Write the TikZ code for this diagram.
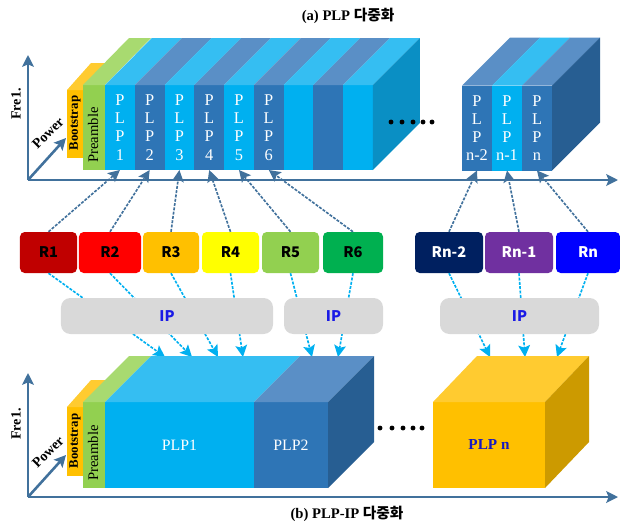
\documentclass[tikz,border=0pt]{standalone}
\usepackage{fontspec}
\setmainfont{Liberation Serif}
\newfontfamily\kor{Noto Sans CJK KR}
\usetikzlibrary{positioning,arrows.meta}

\definecolor{plpcyan}{HTML}{00B0F0}
\definecolor{plpcyantop}{HTML}{35BEF2}
\definecolor{plpcyanside}{HTML}{0A8FC4}
\definecolor{plpblue}{HTML}{2E75B6}
\definecolor{plpbluetop}{HTML}{5A8FC6}
\definecolor{plpblueside}{HTML}{275E92}
\definecolor{bootorange}{HTML}{FFC000}
\definecolor{boottop}{HTML}{FFCB30}
\definecolor{preamgreen}{HTML}{92D050}
\definecolor{preamtop}{HTML}{A8DA70}
\definecolor{plpnside}{HTML}{CC9A00}
\definecolor{axisblue}{HTML}{41719C}
\definecolor{ipgray}{HTML}{D9D9D9}
\definecolor{iptext}{HTML}{1A1AE6}
\definecolor{plpntext}{HTML}{1818C0}
\definecolor{rcol1}{HTML}{C00000}
\definecolor{rcol2}{HTML}{FF0000}
\definecolor{rcol3}{HTML}{FFC000}
\definecolor{rcol4}{HTML}{FFFF00}
\definecolor{rcol5}{HTML}{92D050}
\definecolor{rcol6}{HTML}{00B050}
\definecolor{rcoln2}{HTML}{002060}
\definecolor{rcoln1}{HTML}{7030A0}
\definecolor{rcoln}{HTML}{0000FF}

\begin{document}
\begin{tikzpicture}[x=0.03cm,y=-0.03cm,>={Stealth[length=10pt,width=10pt,inset=2pt]},
    plpcol/.style={inner sep=0pt,outer sep=0pt,minimum width=0.893cm,minimum height=2.55cm,
      text=white,align=center,font=\fontsize{14}{15.5}\selectfont},
    blk/.style={inner sep=0pt,outer sep=0pt,minimum height=2.58cm,text=white,
      font=\fontsize{13.5}{15}\selectfont},
    face/.style={inner sep=0pt,outer sep=0pt},
    rbox/.style={rounded corners=4pt,minimum height=1.23cm,inner sep=0pt,
      font=\kor\bfseries\fontsize{12.5}{14}\selectfont},
    ipbox/.style={fill=ipgray,rounded corners=8pt,minimum height=1.08cm,inner sep=0pt,
      text=iptext,font=\kor\bfseries\fontsize{12.5}{14}\selectfont},
    toparrow/.style={->,color=axisblue,line width=1.4pt,dash pattern=on 2.5pt off 1.2pt},
    botarrow/.style={->,color=plpcyan,line width=1.4pt,dash pattern=on 2.5pt off 1.2pt},
    axis/.style={->,draw=axisblue,line width=2.2pt},
    lbl/.style={inner sep=0pt,font=\bfseries\fontsize{12}{14}\selectfont},
    ttl/.style={font=\bfseries\fontsize{12.5}{14}\selectfont}]
  \useasboundingbox (0,0) rectangle (620,523);

  % (a) PLP multiplexing
  \node[ttl] (ta) at (348,16) {(a) PLP {\kor 다중화}};

  \coordinate (o1) at (28,180);
  \coordinate (f1) at (28,55);
  \coordinate (x1) at (618,180);
  \coordinate (w1) at (66,138);
  \draw[axis] (o1) -- (f1);
  \draw[axis] (o1) -- (x1);
  \draw[axis] (o1) -- (w1);
  \node[lbl,rotate=90] (fa) at (16,104) {Fre1.};
  \node[lbl,rotate=45] (pa) at (48,133) {Power};

  \node[face,fill=bootorange,minimum width=0.48cm,minimum height=2.04cm] (bs1) at (75,124) {};
  \fill[boottop] (bs1.north west) -- (bs1.north east) -- ++(24,-27) -- ++(-16,0) -- cycle;
  \node[face,fill=preamgreen,minimum width=0.66cm,minimum height=2.55cm] (pr1) at (94,127.5) {};
  \fill[preamtop] (pr1.north west) -- (pr1.north east) -- ++(46,-47) -- ++(-22,0) -- cycle;
  \node[rotate=90,inner sep=0pt,font=\bfseries\fontsize{11}{13}\selectfont] (bst1) at (75,123) {Bootstrap};
  \node[rotate=90,inner sep=0pt,font=\fontsize{12.5}{14}\selectfont] (prt1) at (93,135) {Preamble};

  \node[plpcol,fill=plpcyan] (p1) at (119.9,127.5) {P\\L\\P\\1};
  \node[plpcol,fill=plpblue,right=0pt of p1] (p2) {P\\L\\P\\2};
  \node[plpcol,fill=plpcyan,right=0pt of p2] (p3) {P\\L\\P\\3};
  \node[plpcol,fill=plpblue,right=0pt of p3] (p4) {P\\L\\P\\4};
  \node[plpcol,fill=plpcyan,right=0pt of p4] (p5) {P\\L\\P\\5};
  \node[plpcol,fill=plpblue,right=0pt of p5] (p6) {P\\L\\P\\6};
  \node[plpcol,fill=plpcyan,right=0pt of p6] (p7) {};
  \node[plpcol,fill=plpblue,right=0pt of p7] (p8) {};
  \node[plpcol,fill=plpcyan,right=0pt of p8] (p9) {};
  \fill[plpcyantop] (p1.north west) -- (p1.north east) -- ++(47,-47) -- ++(-29.8,0) -- cycle;
  \fill[plpbluetop] (p2.north west) -- (p2.north east) -- ++(47,-47) -- ++(-29.8,0) -- cycle;
  \fill[plpcyantop] (p3.north west) -- (p3.north east) -- ++(47,-47) -- ++(-29.8,0) -- cycle;
  \fill[plpbluetop] (p4.north west) -- (p4.north east) -- ++(47,-47) -- ++(-29.8,0) -- cycle;
  \fill[plpcyantop] (p5.north west) -- (p5.north east) -- ++(47,-47) -- ++(-29.8,0) -- cycle;
  \fill[plpbluetop] (p6.north west) -- (p6.north east) -- ++(47,-47) -- ++(-29.8,0) -- cycle;
  \fill[plpcyantop] (p7.north west) -- (p7.north east) -- ++(47,-47) -- ++(-29.8,0) -- cycle;
  \fill[plpbluetop] (p8.north west) -- (p8.north east) -- ++(47,-47) -- ++(-29.8,0) -- cycle;
  \fill[plpcyantop] (p9.north west) -- (p9.north east) -- ++(47,-47) -- ++(-29.8,0) -- cycle;
  \fill[plpcyanside] (p9.north east) -- ++(47,-47) -- ++(0,85) -- (p9.south east) -- cycle;

  \fill (391,122) circle[radius=2.1pt] (402,122) circle[radius=2.1pt] (413,122) circle[radius=2.1pt]
    (423,122) circle[radius=2.1pt] (432,122) circle[radius=2.1pt];

  \node[plpcol,fill=plpblue,minimum width=0.9cm] (q1) at (477,128) {P\\L\\P\\n-2};
  \node[plpcol,fill=plpcyan,minimum width=0.9cm,right=0pt of q1] (q2) {P\\L\\P\\n-1};
  \node[plpcol,fill=plpblue,minimum width=0.9cm,right=0pt of q2] (q3) {P\\L\\P\\n};
  \fill[plpbluetop] (q1.north west) -- (q1.north east) -- ++(48,-48) -- ++(-30,0) -- cycle;
  \fill[plpcyantop] (q2.north west) -- (q2.north east) -- ++(48,-48) -- ++(-30,0) -- cycle;
  \fill[plpbluetop] (q3.north west) -- (q3.north east) -- ++(48,-48) -- ++(-30,0) -- cycle;
  \fill[plpblueside] (q3.north east) -- ++(48,-48) -- ++(0,85) -- (q3.south east) -- cycle;

  % rate boxes
  \node[rbox,fill=rcol1,minimum width=1.71cm] (R1) at (48.5,252.5) {R1};
  \node[rbox,fill=rcol2,minimum width=1.86cm] (R2) at (110,252.5) {R2};
  \node[rbox,fill=rcol3,minimum width=1.68cm] (R3) at (171,252.5) {R3};
  \node[rbox,fill=rcol4,minimum width=1.71cm] (R4) at (230.5,252.5) {R4};
  \node[rbox,fill=rcol5,minimum width=1.71cm] (R5) at (290.5,252.5) {R5};
  \node[rbox,fill=rcol6,minimum width=1.80cm] (R6) at (353,252.5) {R6};
  \node[rbox,fill=rcoln2,text=white,minimum width=2.04cm] (Rn2) at (449,252.5) {Rn-2};
  \node[rbox,fill=rcoln1,text=white,minimum width=2.04cm] (Rn1) at (519,252.5) {Rn-1};
  \node[rbox,fill=rcoln,text=white,minimum width=1.92cm] (Rn) at (588,252.5) {Rn};

  \path[toparrow]
    (R1.north) edge (p1.south)
    (R2.north) edge (p2.south)
    (R3.north) edge (p3.south)
    (R4.north) edge (p4.south)
    (R5.north) edge (p5.south)
    (R6.north) edge (p6.south)
    (Rn2.north) edge (q1.south)
    (Rn1.north) edge (q2.south)
    (Rn.north) edge (q3.south);

  % (b) PLP-IP multiplexing
  \coordinate (t1) at (165,357);
  \coordinate (t2) at (192,357);
  \coordinate (t3) at (218,357);
  \coordinate (t4) at (243,357);
  \coordinate (t5) at (312,357);
  \coordinate (t6) at (338,357);
  \coordinate (t7) at (490,357);
  \coordinate (t8) at (525,357);
  \coordinate (t9) at (557,357);
  \path[botarrow]
    (R1.south) edge (t1)
    (R2.south) edge (t2)
    (R3.south) edge (t3)
    (R4.south) edge (t4)
    (R5.south) edge (t5)
    (R6.south) edge (t6)
    (Rn2.south) edge (t7)
    (Rn1.south) edge (t8)
    (Rn.south) edge (t9);

  \node[ipbox,minimum width=6.36cm] (IP1) at (167,316) {IP};
  \node[ipbox,minimum width=2.97cm] (IP2) at (333.5,316) {IP};
  \node[ipbox,minimum width=4.77cm] (IP3) at (519.5,316) {IP};

  \coordinate (o2) at (28,497);
  \coordinate (f2) at (28,373);
  \coordinate (x2) at (618,497);
  \coordinate (w2) at (66,455);
  \draw[axis] (o2) -- (f2);
  \draw[axis] (o2) -- (x2);
  \draw[axis] (o2) -- (w2);
  \node[lbl,rotate=90] (fb) at (16,424) {Fre1.};
  \node[lbl,rotate=45] (pb) at (48,452) {Power};

  \node[face,fill=bootorange,minimum width=0.48cm,minimum height=2.07cm] (bs2) at (75,441.5) {};
  \fill[boottop] (bs2.north west) -- (bs2.north east) -- ++(24,-27) -- ++(-16,0) -- cycle;
  \node[face,fill=preamgreen,minimum width=0.66cm,minimum height=2.58cm] (pr2) at (94,445) {};
  \fill[preamtop] (pr2.north west) -- (pr2.north east) -- ++(46,-46) -- ++(-22,0) -- cycle;
  \node[rotate=90,inner sep=0pt,font=\bfseries\fontsize{11}{13}\selectfont] (bst2) at (75,441) {Bootstrap};
  \node[rotate=90,inner sep=0pt,font=\fontsize{12.5}{14}\selectfont] (prt2) at (93,453) {Preamble};

  \node[blk,fill=plpcyan,minimum width=4.47cm] (b1) at (179.5,445) {PLP1};
  \node[blk,fill=plpblue,minimum width=2.22cm,right=0pt of b1] (b2) {PLP2};
  \fill[plpcyantop] (b1.north west) -- (b1.north east) -- ++(46,-46) -- ++(-149,0) -- cycle;
  \fill[plpbluetop] (b2.north west) -- (b2.north east) -- ++(46,-46) -- ++(-74,0) -- cycle;
  \fill[plpblueside] (b2.north east) -- ++(46,-46) -- ++(0,86) -- (b2.south east) -- cycle;

  \fill (380,428) circle[radius=2.1pt] (392,428) circle[radius=2.1pt] (403,428) circle[radius=2.1pt]
    (413,428) circle[radius=2.1pt] (422,428) circle[radius=2.1pt];

  \node[blk,fill=bootorange,minimum width=3.36cm,text=plpntext,font=\bfseries\fontsize{13}{15}\selectfont] (bn) at (489,445) {PLP n};
  \fill[boottop] (bn.north west) -- (bn.north east) -- ++(44,-46) -- ++(-112,0) -- cycle;
  \fill[plpnside] (bn.north east) -- ++(44,-46) -- ++(0,86) -- (bn.south east) -- cycle;

  \node[ttl] (tb) at (347,514) {(b) PLP-IP {\kor 다중화}};
\end{tikzpicture}
\end{document}
